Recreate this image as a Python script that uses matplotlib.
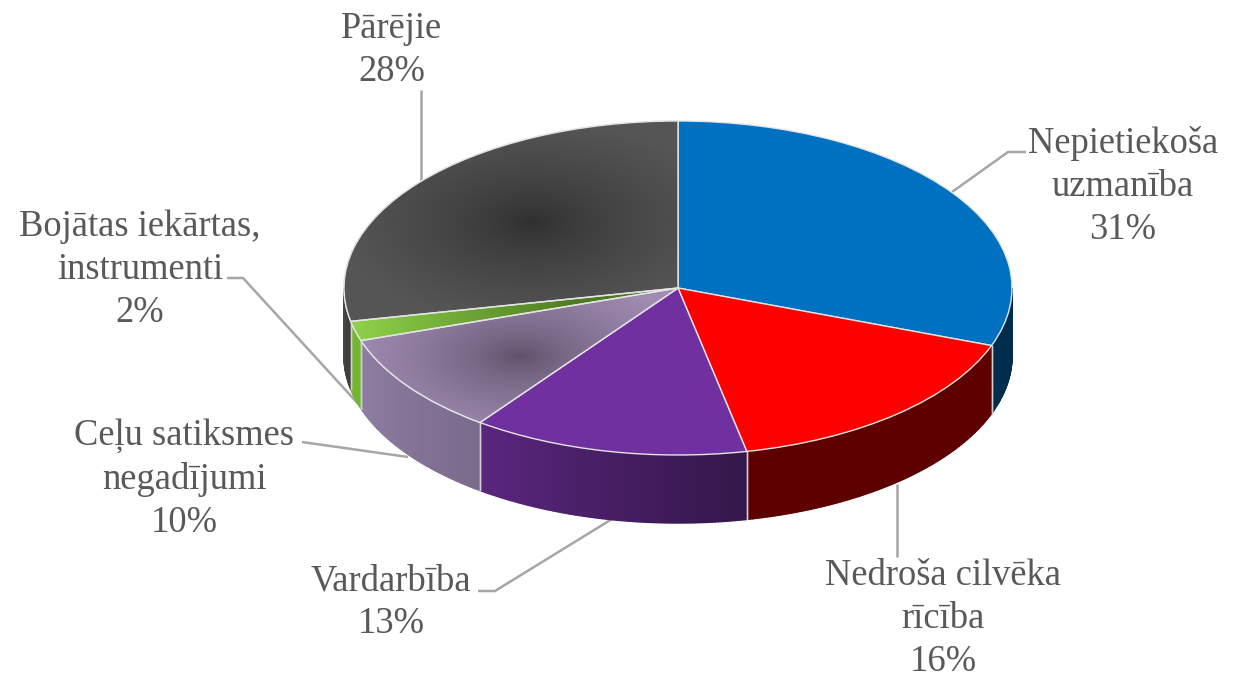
import matplotlib.pyplot as plt
import matplotlib.colors as mcolors
from matplotlib.patches import Wedge
import numpy as np

plt.rcParams['font.family'] = ['Liberation Serif', 'DejaVu Serif']

# Data
labels = ['Nepietiekoša\nuzmanība', 'Nedroša cilvēka\nrīcība', 'Vardarbība',
          'Ceļu satiksmes\nnegadījumi', 'Bojātas iekārtas,\ninstrumenti', 'Pārējie']
shares = [30.6, 16.1, 13.4, 9.8, 1.9, 28.2]
top_colors = ['#0070c0', '#ff0000', '#7030a0', '#9c88ae', '#8ccf45', '#4c4c4c']
wall_from = ['#002c4e', '#5e0000', '#34174a', '#7a6a8c', '#74b52f', '#3c3c3c']
wall_to = ['#002c4e', '#5e0000', '#5a267e', '#8f7ea3', '#74b52f', '#454545']

# Pie geometry in picture pixels
W, H = 1234, 677
cx, cy, rx, ry = 678, 288, 334, 167
depth = 68 / ry


def px(x, y):
    return (x - cx) / rx, (cy - y) / ry


fig = plt.figure(figsize=(W / 100, H / 100), dpi=100)
ax = fig.add_axes([0, 0, 1, 1])

# Leader lines, behind the pie
leaders = [
    [(1026, 152), (1008, 152), (952, 192)],
    [(897, 557), (897, 484)],
    [(478, 591), (495, 591), (612, 519)],
    [(302, 442), (408, 457)],
    [(227, 278), (243, 278), (362, 408)],
    [(421, 90), (421, 182)],
]
for pts in leaders:
    xy = np.array([px(*p) for p in pts])
    ax.plot(xy[:, 0], xy[:, 1], color='#a6a6a6', lw=1.8, zorder=1, solid_capstyle='butt')

# Side walls, only the front half of the disc can be seen
ends = np.cumsum(shares) * 3.6
starts = ends - np.array(shares) * 3.6
for a0, a1, c0, c1 in zip(starts, ends, wall_from, wall_to):
    lo, hi = max(a0, 90), min(a1, 270)
    if hi <= lo:
        continue
    steps = np.linspace(lo, hi, int(hi - lo) * 2 + 2)
    c0, c1 = np.array(mcolors.to_rgb(c0)), np.array(mcolors.to_rgb(c1))
    for t0, t1 in zip(steps[:-1], steps[1:]):
        f = ((t0 + t1) / 2 - lo) / (hi - lo)
        col = c0 + (c1 - c0) * f
        th = np.radians(np.linspace(t0, t1, 3))
        xs = np.sin(th)
        ys = np.cos(th)
        ax.fill(np.r_[xs, xs[::-1]], np.r_[ys, ys[::-1] - depth], facecolor=col,
                edgecolor=col, lw=1.0, zorder=2)
    for t in (lo, hi):
        if t in (90, 270):
            continue
        s, c = np.sin(np.radians(t)), np.cos(np.radians(t))
        ax.plot([s, s], [c, c - depth], color='#d0d0d0', lw=1.0, zorder=3)

# Top of the disc
wedges, _ = ax.pie(shares, colors=top_colors, startangle=90, counterclock=False,
                   wedgeprops=dict(edgecolor='#e4e4e4', linewidth=1.0))
for w in wedges:
    w.set_zorder(4)

# Shaded slices: gradients clipped to the wedges
xlim = px(0, 0)[0], px(W, 0)[0]
ylim = px(0, H)[1], px(0, 0)[1]
gx, gy = np.meshgrid(np.arange(W) + 0.5, np.arange(H) + 0.5)


def shaded(wedge, img):
    im = ax.imshow(img, extent=(xlim[0], xlim[1], ylim[0], ylim[1]), origin='upper',
                   aspect='auto', zorder=4.5, interpolation='bilinear')
    im.set_clip_path(wedge)
    ax.add_patch(Wedge(wedge.center, wedge.r, wedge.theta1, wedge.theta2,
                       fc='none', ec='#e4e4e4', lw=1.0, zorder=5))


def radial(x0, y0, sx, sy, inner, outer, gamma=0.7):
    d = np.clip(np.hypot((gx - x0) / sx, (gy - y0) / sy), 0, 1) ** gamma
    a, b = np.array(mcolors.to_rgb(inner)), np.array(mcolors.to_rgb(outer))
    return a + (b - a) * d[..., None]


shaded(wedges[5], radial(532, 222, 190, 100, '#2e2e2e', '#555555'))
shaded(wedges[3], radial(520, 356, 170, 85, '#5e4f68', '#a08cb2'))
g0, g1 = np.array(mcolors.to_rgb('#8fd24a')), np.array(mcolors.to_rgb('#4d7a20'))
shaded(wedges[4], g0 + (g1 - g0) * np.clip((gx - 352) / (580 - 352), 0, 1)[..., None])

ax.set_aspect('auto')
ax.set_xlim(*xlim)
ax.set_ylim(*ylim)
ax.axis('off')

# Labels
label_pos = [(1123, 186.5), (943, 618.5), (391, 602.5), (184, 479.5), (140, 269.5), (392, 50)]
for name, share, (x, y) in zip(labels, shares, label_pos):
    tx, ty = px(x, y)
    ax.text(tx, ty, f'{name}\n{share:.0f}%', ha='center', va='center', fontsize=26.3,
            color='#595959', linespacing=1.33, zorder=7)

plt.savefig('out.png', dpi=100)
